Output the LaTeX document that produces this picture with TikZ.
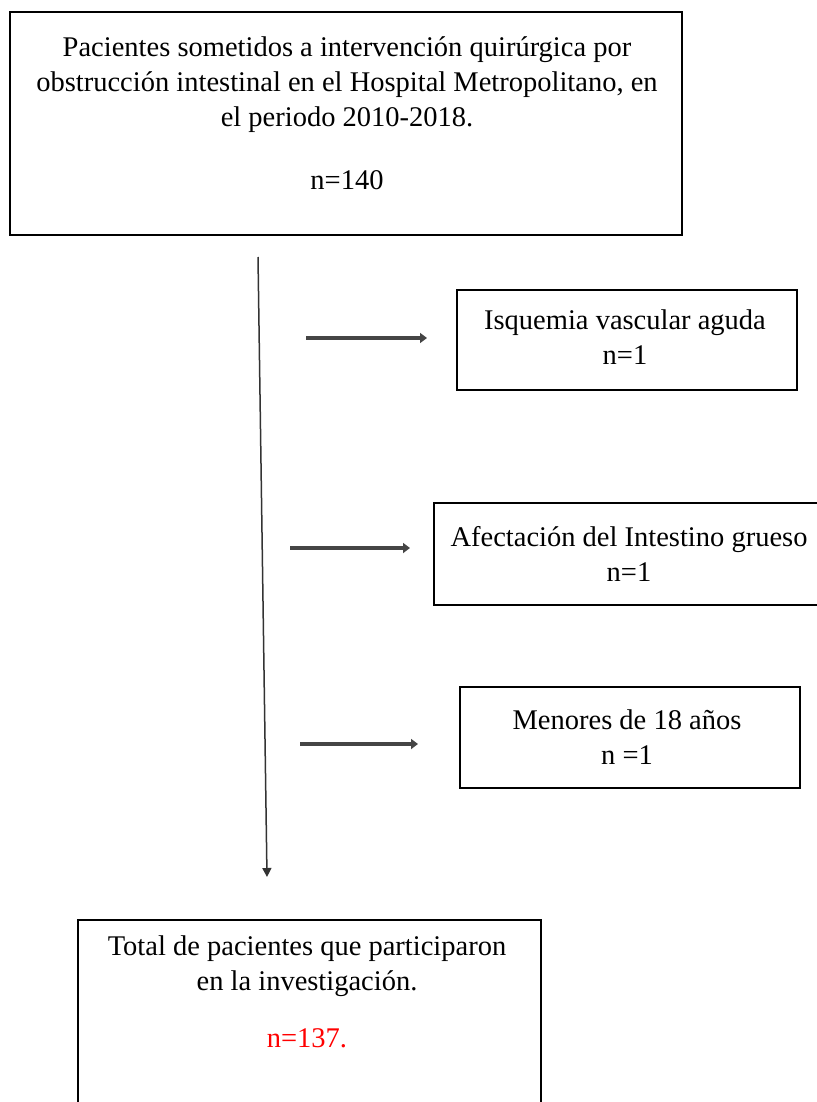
\documentclass[tikz,border=0pt]{standalone}
\usepackage{fontspec}
\setmainfont{Liberation Serif}
\usetikzlibrary{arrows.meta}
\definecolor{arrowgray}{HTML}{454545}
\begin{document}
\begin{tikzpicture}[x=1pt,y=-1pt,
  box/.style={draw=black,line width=2.5pt,inner sep=0pt},
  txt/.style={font=\fontsize{28.5}{35}\selectfont,align=center,inner sep=0pt},
  sidearrow/.style={draw=arrowgray,line width=4.5pt,-{Triangle[length=7pt,width=10pt]}},
  mainline/.style={draw=black!80,line width=1.5pt,-{Triangle[length=9pt,width=9pt]}}]
\useasboundingbox (0,0) rectangle (816,1102);
% top box
\node[box,minimum width=672pt,minimum height=223pt] (top) at (346,123.5) {};
\node[txt] (toptext) at (347,85) {Pacientes sometidos a intervención quirúrgica por\\obstrucción intestinal en el Hospital Metropolitano, en\\el periodo 2010-2018.};
\node[txt] (topn) at (347,180) {n=140};
% side boxes
\node[box,minimum width=340pt,minimum height=100pt] (b1) at (627,340) {};
\node[txt] (b1t) at (625,337) {Isquemia vascular aguda\\n=1};
\node[box,minimum width=400pt,minimum height=102pt] (b2) at (634,554) {};
\node[txt] (b2t) at (629,554) {Afectación del Intestino grueso\\n=1};
\node[box,minimum width=340pt,minimum height=101pt] (b3) at (630,737.5) {};
\node[txt] (b3t) at (627,737) {Menores de 18 años\\n =1};
% bottom box
\node[box,minimum width=463pt,minimum height=220pt] (bot) at (309.5,1030) {};
\node[txt] (bott) at (307,966) {Total de pacientes que participaron\\en la investigación.};
\node[txt,text=red] (botn) at (307,1038) {n=137.};
% connectors
\coordinate (vs) at (258,257);
\coordinate (ve) at (267,877);
\draw[mainline] (vs) -- (ve);
\coordinate (a1s) at (306,338); \coordinate (a1e) at (427,338);
\coordinate (a2s) at (290,548); \coordinate (a2e) at (410,548);
\coordinate (a3s) at (300,744); \coordinate (a3e) at (418,744);
\draw[sidearrow] (a1s) -- (a1e);
\draw[sidearrow] (a2s) -- (a2e);
\draw[sidearrow] (a3s) -- (a3e);
\end{tikzpicture}
\end{document}
